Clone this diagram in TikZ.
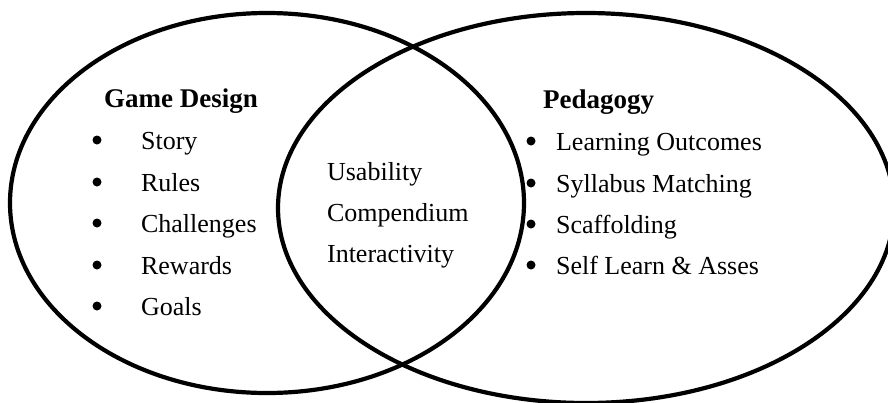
\documentclass[tikz,border=0pt]{standalone}
\usepackage{fontspec}
\setmainfont{Liberation Serif}
\begin{document}
\begin{tikzpicture}[x=1pt, y=-1pt, line width=4.2pt, font=\fontsize{26}{30}\selectfont, every node/.style={anchor=base west, inner sep=0pt}]
	\useasboundingbox (0,0) rectangle (888,402);
	\clip (0,0) rectangle (888,402);
	\draw (267,203) coordinate(L) ellipse [x radius=257pt, y radius=190pt];
	\draw (586,208) coordinate(R) ellipse [x radius=308pt, y radius=195pt];
	\node[font=\fontsize{27}{30}\selectfont\bfseries] (gd) at (102,107) {Game Design};
	\node[font=\fontsize{27}{30}\selectfont\bfseries] (ped) at (541,108) {Pedagogy};
	\foreach \t/\y [count=\i] in {Story/149,Rules/191,Challenges/232,Rewards/274,Goals/315}{
		\fill (97,\y-9) circle (4.5pt);
		\node (g\i) at (139,\y) {\t};}
	\foreach \t/\y [count=\i] in {Learning Outcomes/150,Syllabus Matching/192,Scaffolding/233,{Self Learn \& Asses}/274}{
		\fill (531,\y-9) circle (4.5pt);
		\node (p\i) at (554,\y) {\t};}
	\foreach \t/\y [count=\i] in {Usability/180,Compendium/221,Interactivity/262}
		\node (u\i) at (325,\y) {\t};
\end{tikzpicture}
\end{document}
